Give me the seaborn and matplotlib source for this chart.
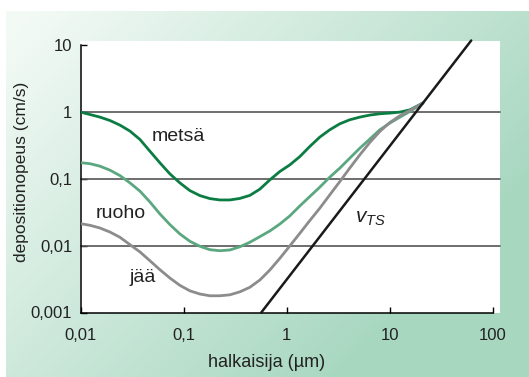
import numpy as np
import pandas as pd
import matplotlib
matplotlib.use("Agg")
import matplotlib.pyplot as plt
from matplotlib.patches import Rectangle
from matplotlib.ticker import FixedLocator, LogLocator, NullFormatter
import seaborn as sns

# ---------------- data ----------------
diam = [0.01, 0.01236, 0.01545, 0.01932, 0.02415, 0.0302, 0.0378, 0.0471, 0.0589, 0.0736,
        0.0920, 0.115, 0.144, 0.180, 0.225, 0.281, 0.351, 0.438, 0.548, 0.685,
        0.857, 1.07, 1.34, 1.67, 2.09, 2.61, 3.27, 4.08, 5.11, 6.38,
        7.98, 9.98, 12.5, 15.6, 20.9]

metsa_y = [1.0, 0.920, 0.841, 0.748, 0.638, 0.519, 0.388, 0.260, 0.174, 0.119,
           0.0871, 0.0668, 0.0562, 0.0507, 0.0484, 0.0484, 0.0510, 0.0566, 0.0701, 0.0966,
           0.129, 0.162, 0.216, 0.305, 0.422, 0.543, 0.668, 0.767, 0.841, 0.902,
           0.944, 0.966, 1.0, 1.08, 1.365]

ruoho_y = [0.175, 0.169, 0.155, 0.135, 0.112, 0.0871, 0.0654, 0.0452, 0.0299, 0.0207,
           0.0150, 0.01164, 0.00979, 0.00871, 0.00841, 0.00863, 0.00963, 0.01124, 0.01365, 0.0166,
           0.0211, 0.0279, 0.0394, 0.0543, 0.0751, 0.106, 0.145, 0.204, 0.288, 0.394,
           0.543, 0.684, 0.841, 1.02, 1.365]

jaa_y = [0.0214, 0.0202, 0.0184, 0.0160, 0.01336, 0.01035, 0.00805, 0.00596, 0.00437, 0.00328,
         0.00255, 0.00211, 0.00189, 0.00178, 0.00178, 0.00184, 0.00204, 0.00238, 0.00306, 0.00432,
         0.00647, 0.00991, 0.01535, 0.0237, 0.0364, 0.0575, 0.0912, 0.145, 0.229, 0.350,
         0.512, 0.698, 0.881, 1.057, 1.365]

vts_x = [0.566, 61.5]
vts_y = [0.001, 11.8]

x_ticks = [0.01, 0.1, 1, 10, 100]
x_tick_labels = ["0,01", "0,1", "1", "10", "100"]
y_ticks = [0.001, 0.01, 0.1, 1, 10]
y_tick_labels = ["0,001", "0,01", "0,1", "1", "10"]
grid_levels = [0.01, 0.1, 1]

labels = ["metsä", "ruoho", "jää"]

# ---------------- style ----------------
sns.set_theme(style="white")
plt.rcParams["font.family"] = ["Liberation Sans", "DejaVu Sans"]
plt.rcParams["mathtext.fontset"] = "custom"
plt.rcParams["mathtext.it"] = "Liberation Sans:italic"
plt.rcParams["mathtext.rm"] = "Liberation Sans"

W, H, DPI = 529, 377, 100
fig = plt.figure(figsize=(W / DPI, H / DPI), dpi=DPI)
fig.patch.set_facecolor("white")

# background gradient panel
bg = fig.add_axes([6 / W, 0, 1 - 6 / W, 1 - 11 / H], zorder=-3)
gx = np.linspace(6, W, 300)
gy = np.linspace(11, H, 220)
XX, YY = np.meshgrid(gx, gy)
t = np.clip(0.80 * XX / W + 0.55 * YY / H - 0.06, 0, 1)
light = np.array([0.955, 0.982, 0.965])
dark = np.array([0.66, 0.845, 0.755])
img = light[None, None, :] * (1 - t[..., None]) + dark[None, None, :] * t[..., None]
bg.imshow(img, aspect="auto", extent=[0, 1, 0, 1], origin="upper")
bg.set_axis_off()

# white plot panel
fig.patches.append(Rectangle((80 / W, 1 - 312.5 / H), (500 - 80) / W, (312.5 - 41) / H,
                             transform=fig.transFigure, facecolor="white",
                             edgecolor="none", zorder=-2))

ax = fig.add_axes([80.5 / W, 1 - 312.5 / H, (493 - 80.5) / W, (312.5 - 45.3) / H], zorder=0)
ax.set_facecolor("none")

# gridlines
for g in grid_levels:
    ax.axhline(g, xmin=0, xmax=(500 - 80.5) / (493 - 80.5), color="#555555",
               lw=1.2, clip_on=False, zorder=1)

df = pd.concat([
    pd.DataFrame({"x": diam, "y": metsa_y, "s": "metsä"}),
    pd.DataFrame({"x": diam, "y": ruoho_y, "s": "ruoho"}),
    pd.DataFrame({"x": diam, "y": jaa_y, "s": "jää"}),
])
palette = {"metsä": "#0b7d43", "ruoho": "#5aa780", "jää": "#8c8c8c"}
sns.lineplot(data=df, x="x", y="y", hue="s", palette=palette, estimator=None,
             sort=False, lw=2.0, ax=ax, legend=False, zorder=3)
sns.lineplot(x=vts_x, y=vts_y, color="#1a1a1a", lw=1.8, ax=ax, estimator=None,
             sort=False, zorder=4)
for ln in ax.lines[-1:]:
    ln.set_clip_on(False)

ax.set_xscale("log")
ax.set_yscale("log")
ax.set_xlim(0.01, 100)
ax.set_ylim(0.001, 10)

ax.xaxis.set_major_locator(FixedLocator(x_ticks))
ax.set_xticklabels(x_tick_labels)
ax.xaxis.set_minor_locator(LogLocator(base=10, subs=np.arange(2, 10), numticks=20))
ax.xaxis.set_minor_formatter(NullFormatter())
ax.yaxis.set_major_locator(FixedLocator(y_ticks))
ax.set_yticklabels(y_tick_labels)
ax.yaxis.set_minor_locator(FixedLocator([]))

ax.tick_params(axis="x", which="major", direction="in", length=4.5, width=1.0,
               color="black", labelsize=12, pad=11, labelcolor="#222222")
ax.tick_params(axis="x", which="minor", direction="in", length=3, width=0.9,
               color="black")
ax.tick_params(axis="y", which="major", direction="in", length=4, width=1.0,
               color="black", labelsize=12, pad=6, labelcolor="#222222",
               left=True)
ax.tick_params(axis="x", bottom=True)

for side in ["top", "right"]:
    ax.spines[side].set_visible(False)
for side in ["left", "bottom"]:
    ax.spines[side].set_color("black")
    ax.spines[side].set_linewidth(1.1)

ax.set_xlabel("halkaisija (µm)", fontsize=13, color="#222222")
ax.set_ylabel("depositionopeus (cm/s)", fontsize=12.5, color="#222222")
ax.xaxis.set_label_coords(0.452, -0.154)
ax.yaxis.set_label_coords(-0.125, 0.525)

ax.text(0.173, 0.642, labels[0], transform=ax.transAxes, fontsize=14,
        color="#222222", ha="left", va="baseline")
ax.text(0.0376, 0.352, labels[1], transform=ax.transAxes, fontsize=14,
        color="#222222", ha="left", va="baseline")
ax.text(0.118, 0.116, labels[2], transform=ax.transAxes, fontsize=14,
        color="#222222", ha="left", va="baseline")
ax.text(0.665, 0.337, r"$v_{TS}$", transform=ax.transAxes, fontsize=15,
        color="#222222", ha="left", va="baseline")

fig.savefig("out.png", dpi=DPI)
